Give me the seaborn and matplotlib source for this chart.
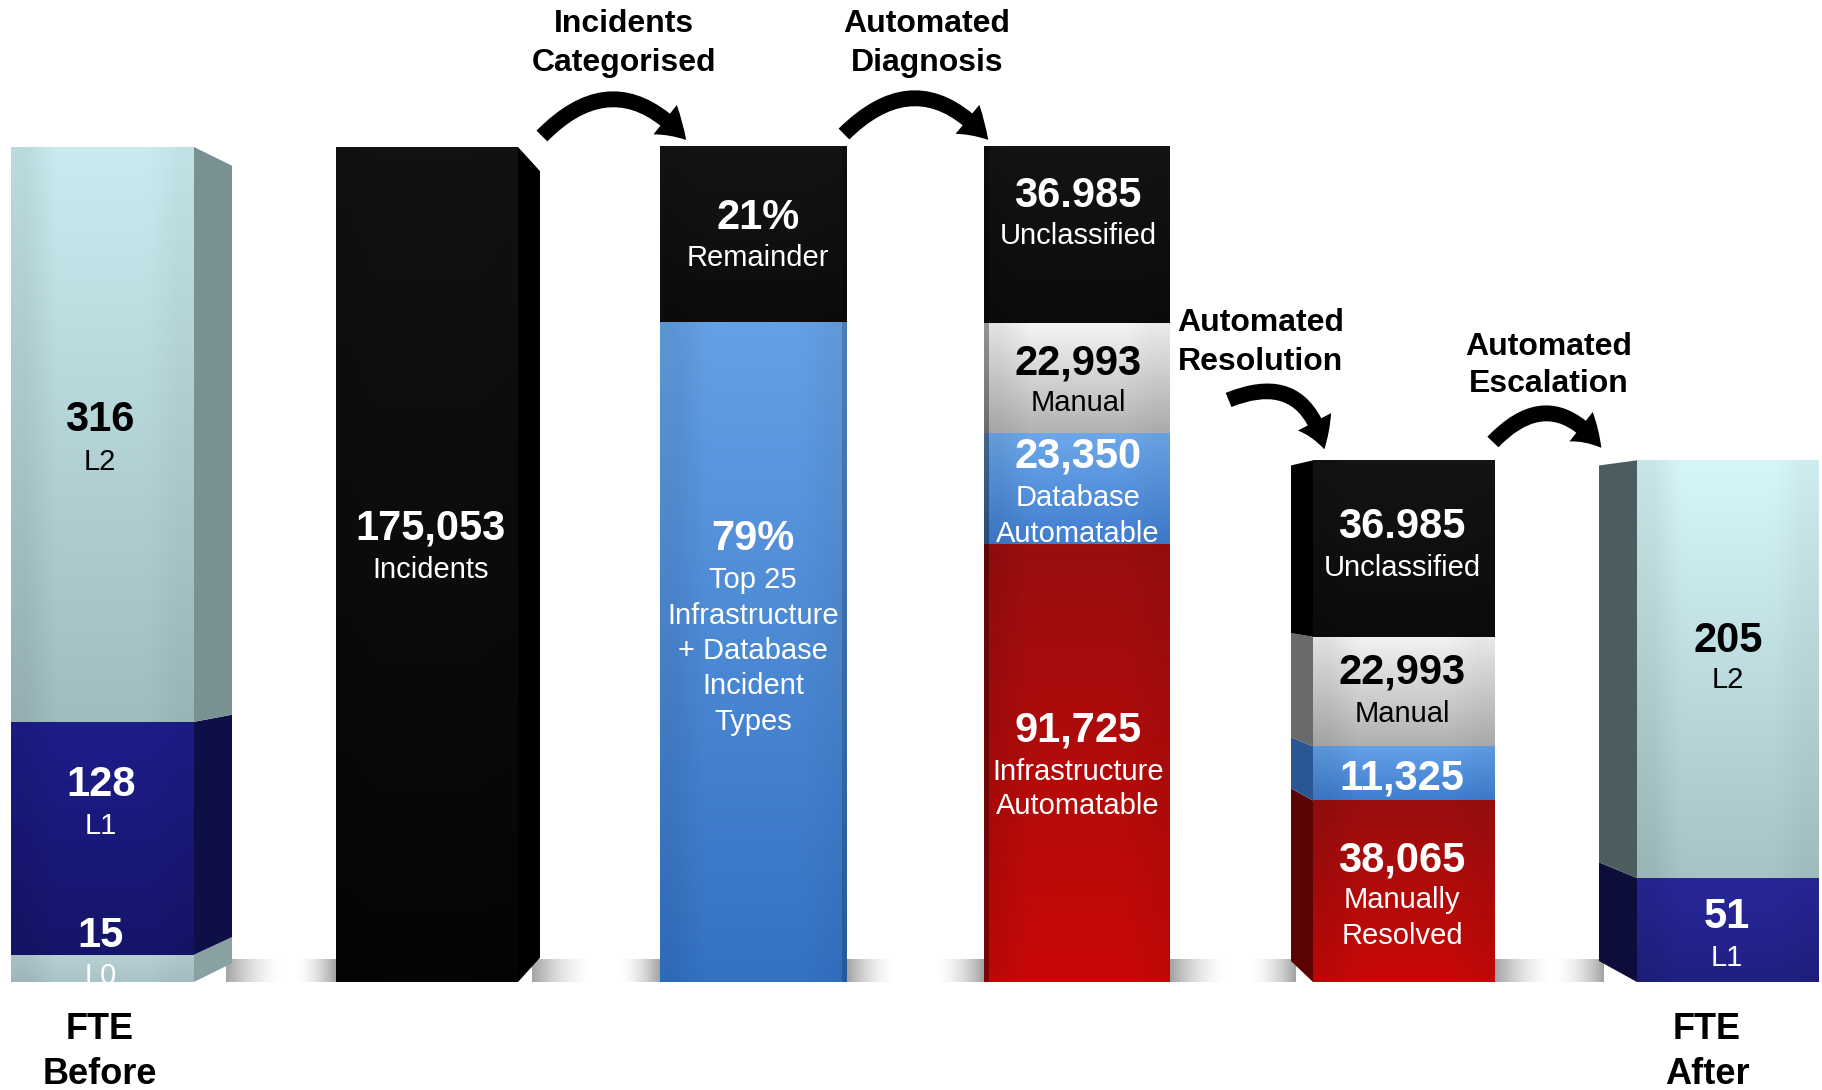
import numpy as np
import matplotlib
matplotlib.use("Agg")
import matplotlib.pyplot as plt
import seaborn as sns
from matplotlib.patches import Polygon, FancyArrowPatch, ArrowStyle
from matplotlib.colors import to_rgb
from matplotlib.transforms import Affine2D

sns.set_theme(style="white")
plt.rcParams['font.family'] = ['Liberation Sans', 'DejaVu Sans']

# ---------------- data ----------------
fte_before_levels = ["L0", "L1", "L2"]
fte_before_values = [15, 128, 316]

incidents_total = 175053

categorised_share = [79, 21]                      # bottom -> top (%)
categorised_labels = [["79%", "Top 25", "Infrastructure", "+ Database", "Incident", "Types"],
                      ["21%", "Remainder"]]

diagnosis_values = [91725, 23350, 22993, 36985]   # bottom -> top
diagnosis_value_labels = ["91,725", "23,350", "22,993", "36.985"]
diagnosis_labels = [["Infrastructure", "Automatable"], ["Database", "Automatable"],
                    ["Manual"], ["Unclassified"]]

resolution_values = [38065, 11325, 22993, 36985]  # bottom -> top
resolution_value_labels = ["38,065", "11,325", "22,993", "36.985"]
resolution_labels = [["Manually", "Resolved"], [], ["Manual"], ["Unclassified"]]

fte_after_levels = ["L1", "L2"]
fte_after_values = [51, 205]

step_titles = [["Incidents", "Categorised"], ["Automated", "Diagnosis"],
               ["Automated", "Resolution"], ["Automated", "Escalation"]]

# ---------------- figure ----------------
W, H = 1822, 1090
fig = plt.figure(figsize=(W / 100, H / 100), dpi=100)
ax = fig.add_axes([0, 0, 1, 1])
ax.axis("off")

FLOOR = 982.0
PPU = 835.0 / incidents_total          # pixels per incident unit


def px2y(p):
    return (FLOOR - p) / PPU


VP = px2y(563)
pix = Affine2D().scale(1.0 / W, -1.0 / H).translate(0, 1) + fig.transFigure


def grad(ctop, cbot, n=64):
    t = np.linspace(0, 1, n)[:, None]
    a, b = np.array(to_rgb(cbot)), np.array(to_rgb(ctop))
    g = a[None, :] * (1 - t) + b[None, :] * t
    g = g[:, None, :].repeat(6, axis=1)
    shade = np.array([0.93, 1, 1, 1, 1, 0.96])[None, :, None]
    return np.clip(g * shade, 0, 1)


def side_face(xf, xb, y0, y1, color, k):
    pts = [(xf, y0), (xf, y1), (xb, VP + (y1 - VP) * k), (xb, VP + (y0 - VP) * k)]
    ax.add_patch(Polygon(pts, closed=True, fc=color, ec="none", zorder=2))


def shadow(x_edge, direction, length, top_px=959):
    n = 64
    alpha = 0.75 * np.linspace(1.0, 0.0, n) ** 1.8
    img = np.zeros((1, n, 4))
    img[..., :3] = 0.52
    img[0, :, 3] = alpha
    if direction < 0:
        img = img[:, ::-1, :]
        ext = (x_edge - length, x_edge, 0, px2y(top_px))
    else:
        ext = (x_edge, x_edge + length, 0, px2y(top_px))
    ax.imshow(img, extent=ext, origin="lower", aspect="auto",
              interpolation="bilinear", zorder=1)


def stack(x0, x1, values, fills, sides=None, side_x=None, k=0.95):
    patches = []
    cum = 0.0
    for i, v in enumerate(values):
        ctop, cbot = fills[i]
        p = ax.bar(x0, v, width=x1 - x0, bottom=cum, align="edge",
                   color=cbot, linewidth=0, zorder=2)[0]
        ax.imshow(grad(ctop, cbot), extent=(x0, x1, cum, cum + v), origin="lower",
                  aspect="auto", interpolation="bilinear", zorder=3)
        if sides is not None:
            xf = x1 if side_x > x1 else x0
            side_face(xf, side_x, cum, cum + v, sides[i], k)
        patches.append(p)
        cum += v
    return patches


# floor shadows
for xe, d, L in [(226, 1, 60), (336, -1, 42), (532, 1, 62), (660, -1, 42), (847, 1, 50),
                 (984, -1, 50), (1170, 1, 60), (1296, -1, 48), (1495, 1, 60), (1604, -1, 50)]:
    shadow(xe, d, L)

# FTE before
sb = incidents_total / sum(fte_before_values)
fte_b = [v * sb for v in fte_before_values]
pb = stack(11, 194, fte_b,
           [("#b8d1d4", "#a9c3c6"), ("#1d1d8a", "#15156a"), ("#c9ebef", "#a0bcbf")],
           sides=["#8aa1a3", "#0f0f48", "#7a9193"], side_x=232, k=0.955)

# Incidents
stack(336, 518, [incidents_total], [("#121212", "#050505")],
      sides=["#000000"], side_x=540, k=0.942)

# Categorised
cat_vals = [incidents_total * s / 100 for s in categorised_share]
stack(660, 847, cat_vals, [("#64a0e4", "#3372c4"), ("#141414", "#0c0c0c")])
ax.add_patch(Polygon([(842, 0), (847, 0), (847, incidents_total), (842, incidents_total)],
                     fc="#000000", alpha=0.18, ec="none", zorder=4))

# Diagnosis
stack(984, 1170, diagnosis_values,
      [("#9a0e0e", "#c90808"), ("#6ea8ea", "#3f7dcf"), ("#f4f4f4", "#b2b2b2"), ("#141414", "#0c0c0c")])
ax.add_patch(Polygon([(984, 0), (989, 0), (989, incidents_total), (984, incidents_total)],
                     fc="#000000", alpha=0.35, ec="none", zorder=4))

# Resolution
stack(1313, 1495, resolution_values,
      [("#9a0e0e", "#c90808"), ("#64a2e8", "#3f7dcf"), ("#f2f2f2", "#b0b0b0"), ("#141414", "#0c0c0c")],
      sides=["#5a0404", "#2a5794", "#6a6a6a", "#000000"], side_x=1291, k=0.95)

# FTE after
sa = sum(resolution_values) / sum(fte_after_values)
fte_a = [v * sa for v in fte_after_values]
stack(1637, 1819, fte_a, [("#27279a", "#202082"), ("#d6f6f9", "#a6c3c6")],
      sides=["#0d0d3c", "#4c5d5f"], side_x=1599, k=0.95)

ax.set_xlim(0, W)
ax.set_ylim(px2y(H), px2y(0))

# ---------------- text ----------------
def T(x, y, s, pt, bold=False, color="white"):
    base = y + 0.36 * pt * 100 / 72
    fig.text(x / W, 1 - base / H, s, ha="center", va="baseline", fontsize=pt,
             fontweight="bold" if bold else "normal", color=color)


BIG, SM = 30, 21
# FTE before
T(100, 416, str(fte_before_values[2]), BIG, True, "black")
T(100, 459, fte_before_levels[2], SM, False, "black")
T(101, 781, str(fte_before_values[1]), BIG, True)
T(101, 823, fte_before_levels[1], SM)
T(101, 932, str(fte_before_values[0]), BIG, True)
t0 = ax.text(101, px2y(974 + 0.36 * SM * 100 / 72), fte_before_levels[0], ha="center",
             va="baseline", fontsize=SM, color="white", zorder=6, clip_on=True)
t0.set_clip_path(pb[0])

# Incidents
T(431, 525, f"{incidents_total:,}", BIG, True)
T(431, 567, "Incidents", SM)

# Categorised
T(758, 214, categorised_labels[1][0], BIG, True)
T(758, 256, categorised_labels[1][1], SM)
T(753, 535, categorised_labels[0][0], BIG, True)
for i, s in enumerate(categorised_labels[0][1:]):
    T(753, 578 + 35.3 * i, s, SM)

# Diagnosis
dpos = [(727, [769, 804]), (453, [496, 531]), (359, [401]), (192, [234])]
for i, (yb, ys) in enumerate(dpos):
    c = "black" if i == 2 else "white"
    T(1078, yb, diagnosis_value_labels[i], BIG, True, c)
    for s, y in zip(diagnosis_labels[i], ys):
        T(1078, y, s, SM, False, c)

# Resolution
rpos = [(856, [898, 933]), (775, []), (668, [711]), (523, [565])]
for i, (yb, ys) in enumerate(rpos):
    c = "black" if i == 2 else "white"
    T(1402, yb, resolution_value_labels[i], BIG, True, c)
    for s, y in zip(resolution_labels[i], ys):
        T(1402, y, s, SM, False, c)

# FTE after
T(1728, 637, str(fte_after_values[1]), BIG, True, "black")
T(1728, 677, fte_after_levels[1], SM, False, "black")
T(1727, 913, str(fte_after_values[0]), BIG, True)
T(1727, 955, fte_after_levels[0], SM)

# FTE captions
T(100, 1026, "FTE", 26, True, "black")
T(100, 1071, "Before", 26, True, "black")
T(1707, 1026, "FTE", 26, True, "black")
T(1707, 1071, "After", 26, True, "black")

# step titles
for (x, y1, y2), (a, b) in zip([(624, 21, 60), (927, 21, 60), (1261, 320, 358), (1549, 344, 381)],
                               step_titles):
    T(x, y1, a, 23, True, "black")
    T(x, y2, b, 23, True, "black")

# ---------------- arrows ----------------
style = ArrowStyle("simple", head_length=1.05, head_width=1.35, tail_width=0.55)
for a, b, rad in [((540, 138), (688, 142), -0.55), ((842, 136), (990, 142), -0.55),
                  ((1226, 401), (1325, 452), -0.6), ((1491, 444), (1603, 450), -0.6)]:
    arr = FancyArrowPatch(a, b, connectionstyle=f"arc3,rad={rad}", arrowstyle=style,
                          mutation_scale=20, color="black", transform=pix, lw=0)
    fig.add_artist(arr)

fig.savefig("out.png", dpi=100, facecolor="white")
